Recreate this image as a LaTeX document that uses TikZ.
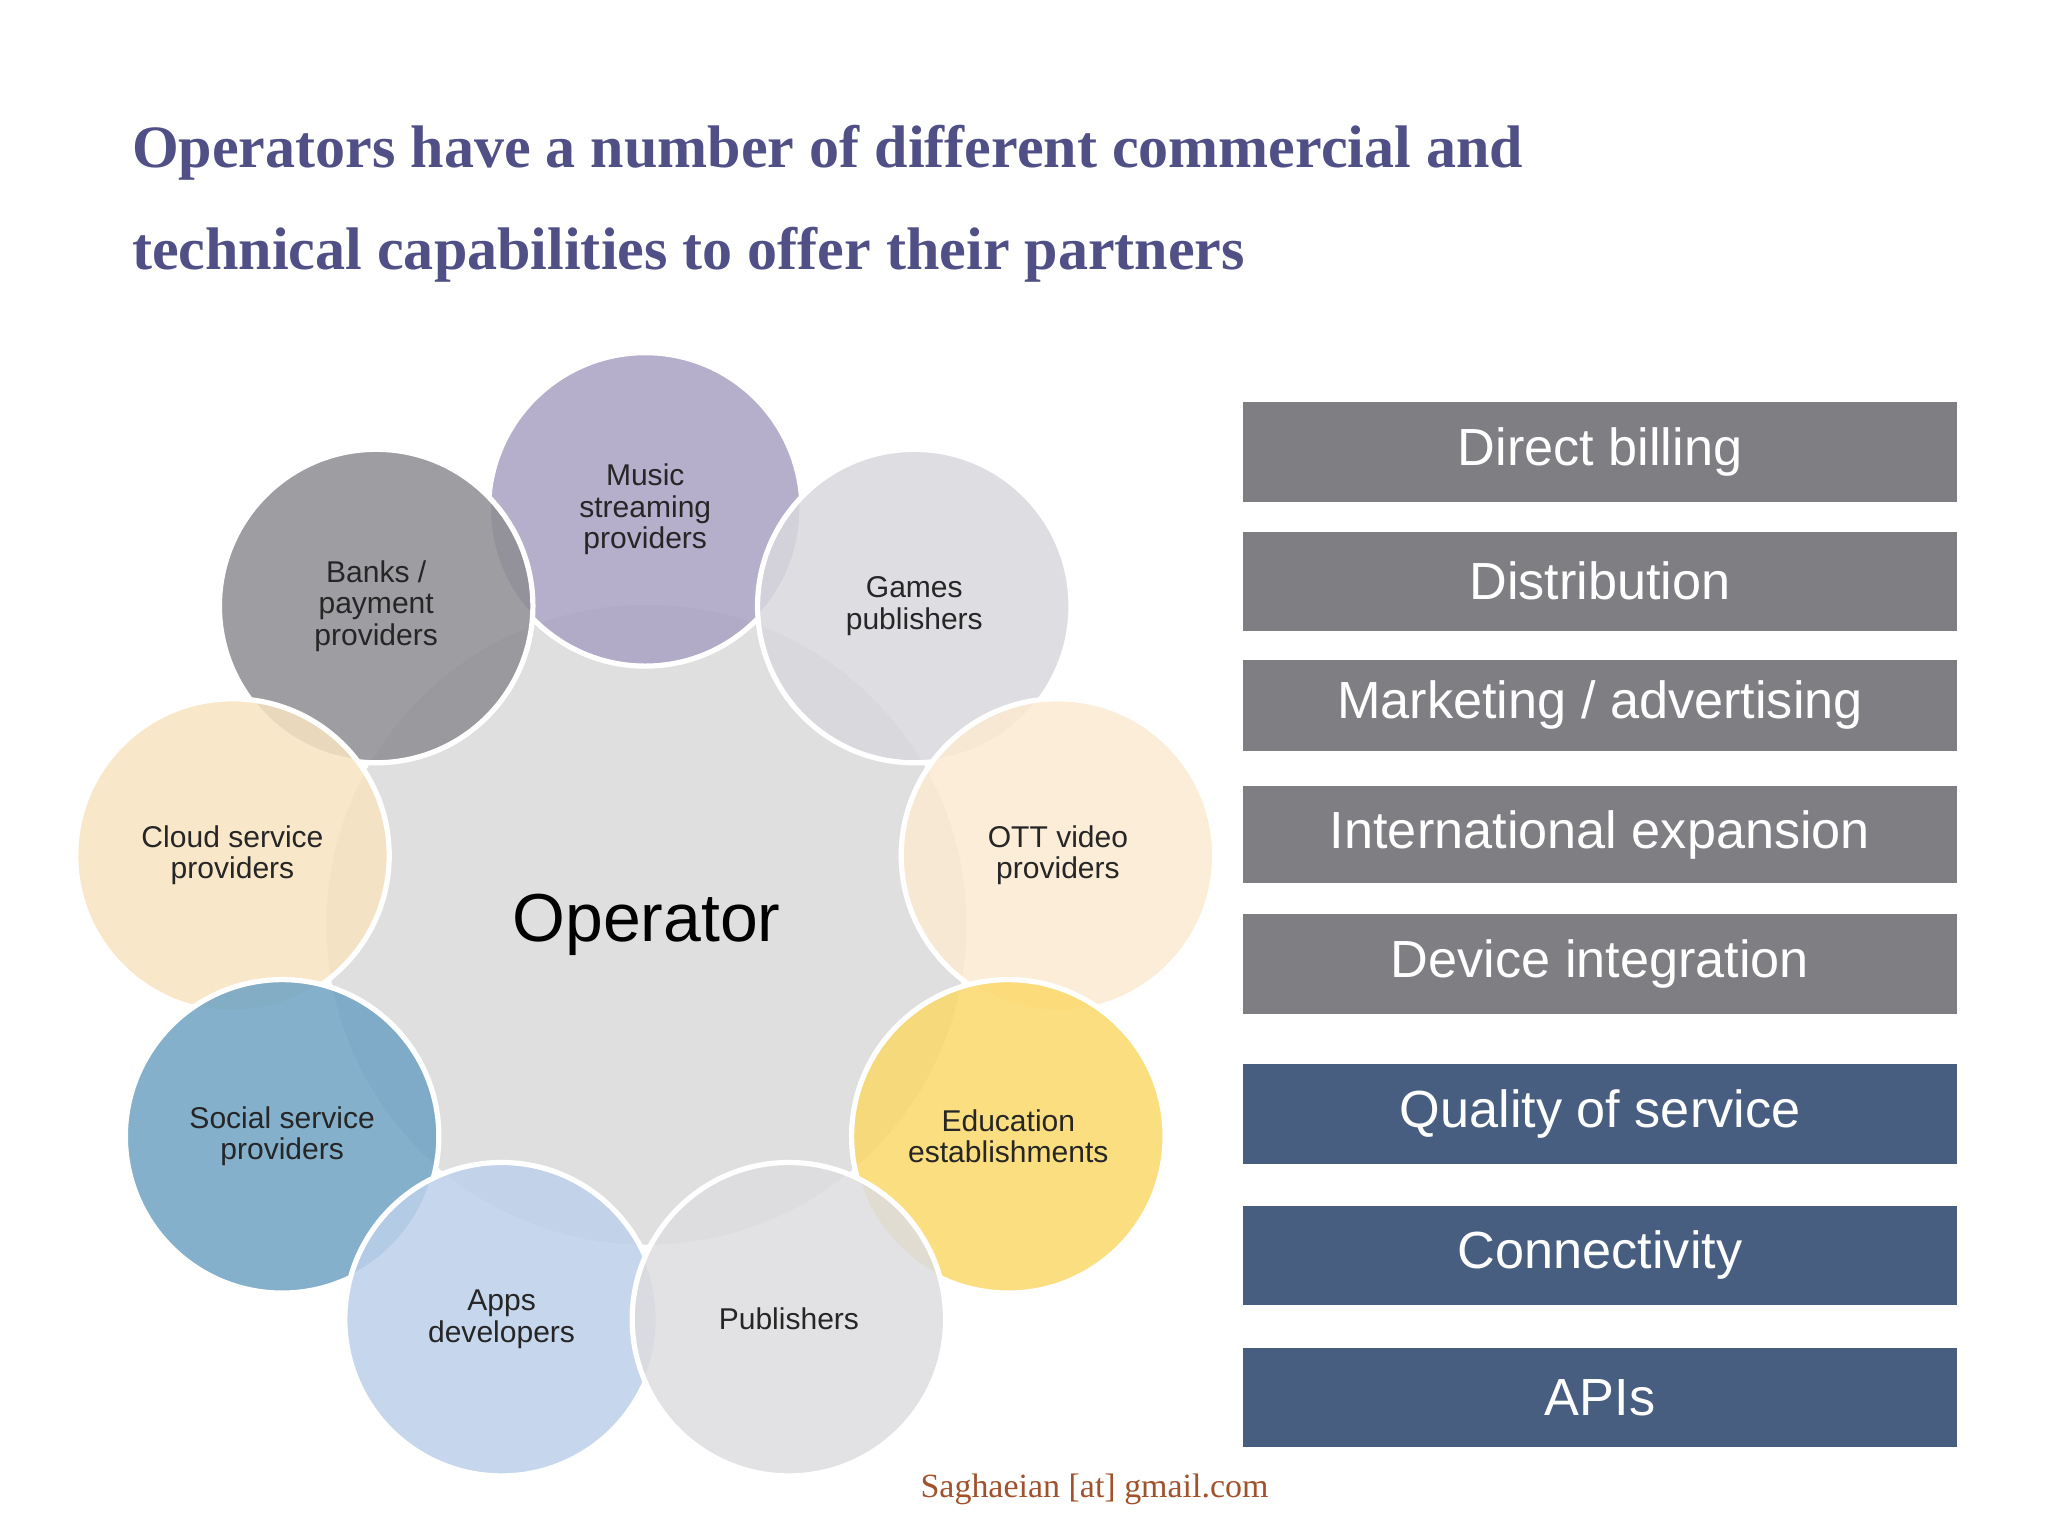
\documentclass[tikz,border=0pt]{standalone}
\usepackage{fontspec}
\setmainfont{Liberation Sans}
\newfontfamily\titlefont{Liberation Serif}
\begin{document}
\begin{tikzpicture}[x=0.5pt,y=-0.5pt,
  sat/.style={circle,draw=white,line width=2pt,minimum size=120pt,inner sep=0pt,align=center,font=\fontsize{11.5}{12}\selectfont,text=black!85,fill opacity=0.85,text opacity=1},
  gbox/.style={minimum width=273pt,minimum height=38pt,inner sep=0pt,fill=#1,text=white,font=\fontsize{20}{22}\selectfont,drop shadow},
  ]
\useasboundingbox (0,0) rectangle (1568,1176);
\fill[white] (0,0) rectangle (1568,1176);
\node[anchor=west,text=black!20!blue!30!gray!90!black,align=left,font=\titlefont\bfseries\fontsize{23}{39}\selectfont] (title) at (94,156) {Operators have a number of different commercial and\\technical capabilities to offer their partners};
\node[circle,fill=gray!25,minimum size=245pt,inner sep=0pt] (op) at (495,708) {};
\node[sat,fill={rgb,255:red,169;green,162;blue,196}] (music) at (494,390) {Music\\streaming\\providers};
\node[sat,fill={rgb,255:red,142;green,141;blue,146}] (banks) at (288,464) {Banks /\\payment\\providers};
\node[sat,fill={rgb,255:red,217;green,216;blue,221}] (games) at (700,464) {Games\\publishers};
\node[sat,fill={rgb,255:red,247;green,227;blue,192}] (cloud) at (178,655) {Cloud service\\providers};
\node[sat,fill={rgb,255:red,251;green,234;blue,208}] (ott) at (810,655) {OTT video\\providers};
\node[sat,fill={rgb,255:red,111;green,163;blue,196}] (social) at (216,870) {Social service\\providers};
\node[sat,fill={rgb,255:red,251;green,217;blue,106}] (edu) at (772,870) {Education\\establishments};
\node[sat,fill={rgb,255:red,189;green,208;blue,235}] (apps) at (384,1010) {Apps\\developers};
\node[sat,fill={rgb,255:red,221;green,220;blue,224}] (pub) at (604,1010) {Publishers};
\node[font=\fontsize{26}{28}\selectfont] (opl) at (495,708) {Operator};
\colorlet{bg}{black!50!gray!95!white}
\definecolor{g1}{RGB}{127,126,131}
\definecolor{b1}{RGB}{71,94,128}
\tikzset{gbox/.style={minimum width=273pt,minimum height=38pt,inner sep=0pt,fill=#1,text=white,font=\fontsize{20}{22}\selectfont}}
\node[gbox=g1] (b1) at (1225,346) {Direct billing};
\node[gbox=g1] (b2) at (1225,445) {Distribution};
\node[gbox=g1,minimum height=35pt] (b3) at (1225,540) {Marketing / advertising};
\node[gbox=g1,minimum height=37pt] (b4) at (1225,639) {International expansion};
\node[gbox=g1] (b5) at (1225,738) {Device integration};
\node[gbox=b1] (b6) at (1225,853) {Quality of service};
\node[gbox=b1] (b7) at (1225,961) {Connectivity};
\node[gbox=b1] (b8) at (1225,1070) {APIs};
\node[font=\titlefont\fontsize{13}{14}\selectfont,text={rgb,255:red,160;green,82;blue,45}] (foot) at (838,1140) {Saghaeian [at] gmail.com};
\end{tikzpicture}
\end{document}
